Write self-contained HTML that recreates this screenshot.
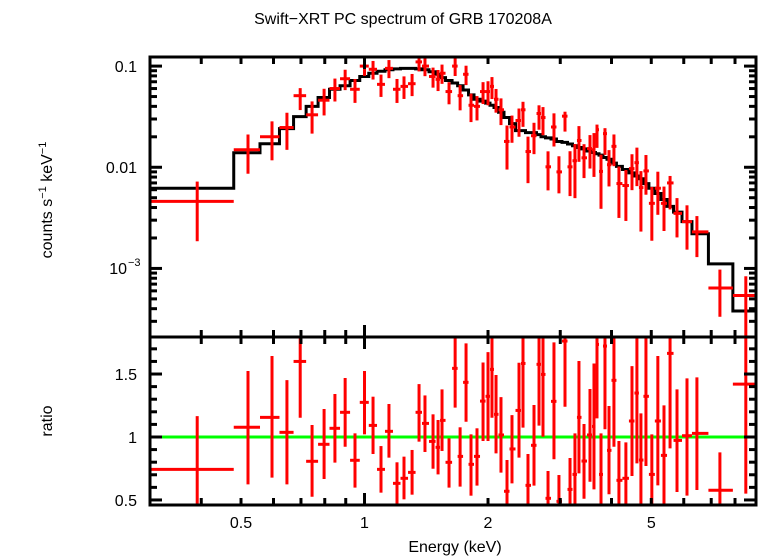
<!DOCTYPE html>
<html><head><meta charset="utf-8"><style>
html,body{margin:0;padding:0;background:#fff;}
svg{display:block;font-family:"Liberation Sans",sans-serif;}
</style></head><body>
<svg id="chart" width="758" height="556" viewBox="0 0 758 556">
<text x="403" y="24" font-size="16" text-anchor="middle">Swift−XRT PC spectrum of GRB 170208A</text>
<g id="plot"></g>
</svg>
<script>
// ---- data ----
const energies=[0.391,0.520,0.595,0.647,0.697,0.745,0.797,0.847,0.897,0.948,1.00,1.049,1.097,1.147,1.200,1.248,1.306,1.358,1.404,1.469,1.511,1.545,1.607,1.663,1.710,1.768,1.818,1.880,1.945,2.000,2.045,2.092,2.151,2.225,2.288,2.380,2.434,2.503,2.589,2.663,2.723,2.801,2.896,2.978,3.081,3.169,3.258,3.332,3.428,3.545,3.625,3.687,3.771,3.856,3.944,4.055,4.170,4.336,4.487,4.613,4.718,4.853,5.016,5.188,5.370,5.556,5.777,6.11,6.46,7.35,8.50];
const flux=[0.0046,0.0149,0.020,0.0247,0.051,0.033,0.046,0.060,0.075,0.059,0.10,0.093,0.066,0.095,0.059,0.063,0.067,0.11,0.10,0.079,0.074,0.085,0.056,0.10,0.051,0.083,0.041,0.040,0.056,0.056,0.063,0.047,0.037,0.018,0.025,0.029,0.037,0.0143,0.0205,0.034,0.031,0.0101,0.025,0.0090,0.032,0.0101,0.0116,0.0184,0.0124,0.0153,0.0149,0.0235,0.0091,0.0215,0.0106,0.0161,0.0069,0.0066,0.0097,0.0111,0.0063,0.0092,0.0044,0.0062,0.0044,0.0070,0.0035,0.0029,0.0023,0.00064,0.00054];
const model=[0.0062,0.0139,0.0171,0.0241,0.0317,0.040,0.049,0.059,0.064,0.072,0.079,0.085,0.089,0.092,0.094,0.095,0.095,0.094,0.092,0.088,0.083,0.077,0.072,0.068,0.064,0.058,0.052,0.047,0.045,0.043,0.041,0.039,0.035,0.031,0.027,0.023,0.023,0.022,0.022,0.021,0.020,0.0195,0.019,0.018,0.0176,0.017,0.0163,0.0157,0.0152,0.0145,0.014,0.0136,0.0132,0.0125,0.012,0.011,0.0102,0.0095,0.0088,0.0082,0.0077,0.0069,0.0062,0.0055,0.0048,0.0041,0.0036,0.0029,0.0022,0.00111,0.00038];
const ratio=[0.743,1.077,1.156,1.037,1.60,0.807,0.942,1.069,1.196,0.815,1.275,1.092,0.743,1.045,0.632,0.672,0.719,1.196,1.108,0.965,0.918,1.132,0.799,1.545,0.846,1.434,0.783,0.846,1.285,1.323,1.537,1.18,1.016,0.569,0.905,1.211,1.584,0.616,0.934,1.577,1.497,0.513,1.283,0.489,1.762,0.584,0.703,1.156,0.809,1.016,1.084,1.735,0.703,1.722,0.894,1.45,0.656,0.672,1.127,1.349,0.817,1.323,0.703,1.127,0.854,1.664,0.973,1.01,1.029,0.577,1.42];
const ratioHi=[1.166,1.524,1.643,1.452,1.9,1.095,1.222,1.341,1.468,1.029,1.524,1.32,0.928,1.262,0.799,0.844,0.897,1.42,1.33,1.18,1.135,1.378,0.989,1.9,1.077,1.743,1.021,1.069,1.592,1.674,1.9,1.492,1.317,0.817,1.174,1.59,1.9,0.865,1.254,1.9,1.9,0.73,1.751,0.698,1.95,0.833,1.029,1.603,1.103,1.381,1.584,1.95,1.029,1.95,1.246,1.9,0.968,0.957,1.563,1.9,1.188,1.9,1.021,1.643,1.251,1.95,1.378,1.465,1.473,0.878,2.2];
const ratioLo=[0.3,0.624,0.677,0.624,1.153,0.526,0.666,0.796,0.923,0.598,1.021,0.865,0.558,0.836,0.463,0.505,0.542,0.963,0.881,0.748,0.703,0.889,0.598,1.233,0.606,1.121,0.534,0.614,0.968,0.968,1.153,0.870,0.717,0.3,0.632,0.836,1.074,0.3,0.614,1.09,1.002,0.3,0.823,0.3,1.24,0.3,0.3,0.711,0.51,0.645,0.584,1.148,0.3,1.061,0.545,0.923,0.3,0.3,0.69,0.791,0.3,0.77,0.3,0.616,0.455,0.91,0.563,0.534,0.579,0.3,0.55];
const xMin=0.3, xMax=9, firstBinHi=0.48;
const xTickLabels=["0.5","1","2","5"];
const xTickValues=[0.5,1,2,5];
const ratioTicks=[0.5,1,1.5];
const ratioTickLabels=["0.5","1","1.5"];

// ---- layout ----
const L=150,R=756,T=57,M=337,B=505;
const yTopMax=Math.log10(0.123), yTopMin=Math.log10(2.1e-4);
const rMax=1.794, rMin=0.46;
const X=e=>L+(Math.log10(e)-Math.log10(xMin))/(Math.log10(xMax)-Math.log10(xMin))*(R-L);
const YT=v=>T+(yTopMax-Math.log10(v))/(yTopMax-yTopMin)*(M-T);
const YR=v=>M+(rMax-v)/(rMax-rMin)*(B-M);
const NS="http://www.w3.org/2000/svg";
const plot=document.getElementById('plot');
function mk(tag,attrs,parent){const el=document.createElementNS(NS,tag);for(const k in attrs)el.setAttribute(k,attrs[k]);(parent||plot).appendChild(el);return el;}

// clip paths
const defs=mk('defs',{});
const c1=mk('clipPath',{id:'cTop'},defs);mk('rect',{x:L,y:T,width:R-L,height:M-T},c1);
const c2=mk('clipPath',{id:'cBot'},defs);mk('rect',{x:L,y:M,width:R-L,height:B-M},c2);

// bin edges
const edges=[xMin];
for(let i=0;i<energies.length-1;i++)edges.push(Math.sqrt(energies[i]*energies[i+1]));
edges.push(xMax);
edges[1]=firstBinHi;

const gTop=mk('g',{'clip-path':'url(#cTop)'});


const gBot=mk('g',{'clip-path':'url(#cBot)'});



// model step line
let d='';
for(let i=0;i<model.length;i++){
  const y=YT(model[i]);
  d+=(i===0?'M':'L')+X(edges[i])+','+y+'L'+X(edges[i+1])+','+y;
}
const ml=mk('path',{d:d,fill:'none',stroke:'#000','stroke-width':3},gTop);



// unity line
const ul=mk('line',{x1:L,x2:R,y1:YR(1),y2:YR(1),stroke:'#00ff00','stroke-width':3},gBot);



// data points
for(let i=0;i<energies.length;i++){
  const x=X(energies[i]),x0=X(edges[i]),x1=X(edges[i+1]);
  const y=YT(flux[i]);
  const yh=YT(flux[i]*ratioHi[i]/ratio[i]), yl=YT(flux[i]*ratioLo[i]/ratio[i]);
  const g=mk('g',{stroke:'#ff0000','stroke-width':3},gTop);
  
  
  mk('line',{x1:x0,x2:x1,y1:y,y2:y},g);
  mk('line',{x1:x,x2:x,y1:yh,y2:yl},g);
  const ry=YR(ratio[i]);
  const g2=mk('g',{stroke:'#ff0000','stroke-width':3},gBot);
  
  
  mk('line',{x1:x0,x2:x1,y1:ry,y2:ry},g2);
  mk('line',{x1:x,x2:x,y1:YR(ratioHi[i]),y2:YR(ratioLo[i])},g2);
}

// frames
const f1=mk('rect',{x:L,y:T,width:R-L,height:M-T,fill:'none',stroke:'#000','stroke-width':3});


const f2=mk('rect',{x:L,y:M,width:R-L,height:B-M,fill:'none',stroke:'#000','stroke-width':3});



// x ticks
const ax=mk('g',{stroke:'#000','stroke-width':3});


for(let dec=0.1;dec<=10;dec*=10){
  for(let k=1;k<10;k++){
    const v=k*dec; if(v<xMin-1e-9||v>xMax+1e-9)continue;
    const x=X(v), len=(k===1)?12:7;
    [[T,1],[M,-1],[M,1],[B,-1]].forEach(([y0,s])=>mk('line',{x1:x,x2:x,y1:y0,y2:y0+s*len},ax));
  }
}
// y ticks top (log)
const ay=mk('g',{stroke:'#000','stroke-width':3});


for(let dec=1e-4;dec<1;dec*=10){
  for(let k=1;k<10;k++){
    const v=k*dec, y=YT(v); if(y<T||y>M)continue;
    const len=(k===1)?12:7;
    mk('line',{x1:L,x2:L+len,y1:y,y2:y},ay);
    mk('line',{x1:R,x2:R-len,y1:y,y2:y},ay);
  }
}
for(let v=0.5;v<=1.8;v+=0.1){
  const y=YR(v); const maj=Math.abs((v*2)-Math.round(v*2))<1e-6; const len=maj?12:7;
  mk('line',{x1:L,x2:L+len,y1:y,y2:y},ay);
  mk('line',{x1:R,x2:R-len,y1:y,y2:y},ay);
}
// labels
function txt(s,x,y,anchor,name,size){const t=mk('text',{x:x,y:y,'font-size':size||16,'text-anchor':anchor||'middle'});t.textContent=s;return t;}
xTickValues.forEach((v,i)=>txt(xTickLabels[i],X(v),528,'middle','x-tick-label'));
txt('0.1',137,72,'end','y-tick-label');
txt('0.01',137,173,'end','y-tick-label');
const t3=txt('10',127,274,'end','y-tick-label');
const sup=mk('text',{x:128,y:266,'font-size':11,'text-anchor':'start'});sup.textContent='−3';


ratioTicks.forEach((v,i)=>txt(ratioTickLabels[i],137,YR(v)+6,'end','ratio-tick-label'));
txt('Energy (keV)',455,552,'middle','x-axis-title');
const yt=mk('text',{x:0,y:0,'font-size':16,'text-anchor':'middle',transform:'translate(52,200) rotate(-90)'});


yt.innerHTML='counts s<tspan dy="-6" font-size="11">−1</tspan><tspan dy="6"> keV</tspan><tspan dy="-6" font-size="11">−1</tspan>';
const rt=mk('text',{x:0,y:0,'font-size':16,'text-anchor':'middle',transform:'translate(52,421) rotate(-90)'});
rt.textContent='ratio';


</script>
</body></html>
